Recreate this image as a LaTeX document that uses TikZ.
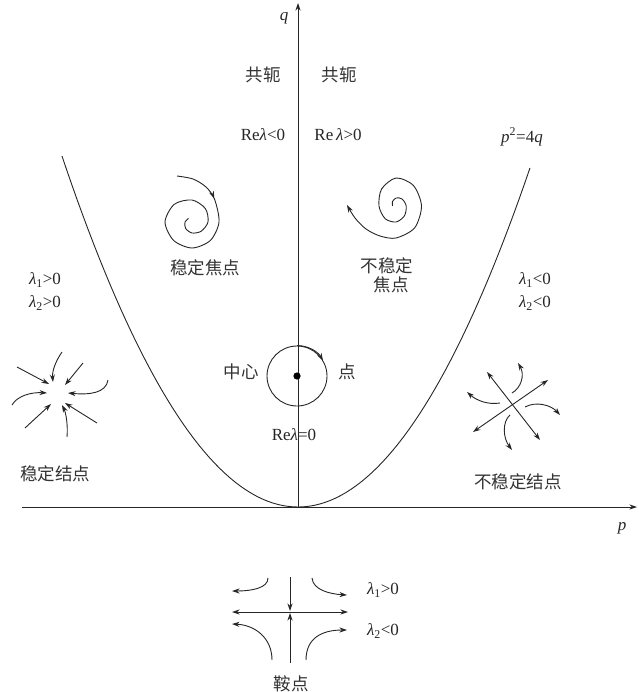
\documentclass[tikz,border=0pt]{standalone}
\usepackage{fontspec}
\setmainfont{Liberation Serif}
\newfontfamily\cjk{Noto Sans CJK SC}
\usetikzlibrary{arrows.meta,decorations.markings}
\begin{document}
\begin{tikzpicture}[x=1pt,y=-1pt,line width=0.9pt,draw=black!85,
  >={Stealth[length=7.5pt,width=5pt]},
  lab/.style={font=\fontsize{17}{19}\selectfont,inner sep=0pt,text=black!85},
  zh/.style={font=\cjk\fontsize{17.5}{20}\selectfont,inner sep=0pt,text=black!80},
  arrowmid/.style={postaction={decorate},decoration={markings,mark=at position #1 with {\arrow{>}}}}]
\useasboundingbox (0,0) rectangle (638,692);

% axes
\coordinate (O) at (298,507);
\coordinate (pstart) at (22,507);
\coordinate (pend) at (637,507);
\coordinate (qend) at (298,3);
\draw[->] (pstart) -- (pend);
\draw[->] (O) -- (qend);
\node[lab] (q) at (284,18) {\textit{q}};
\node[lab] (p) at (622,528) {\textit{p}};

% parabola
\draw[domain=-2.36:2.32,samples=90] plot ({298+100*\x},{507-63*\x*\x});
\node[lab] (pq) at (522,137) {\textit{p}\textsuperscript{2}=4\textit{q}};

% top labels
\node[zh] (gl) at (263,75) {共轭};
\node[zh] (gr) at (339,75) {共轭};
\node[lab] (rl) at (263,135) {Re\textit{λ}<0};
\node[lab] (rr) at (338,135) {Re\,\textit{λ}>0};

% stable focus
\draw[arrowmid=46pt] plot[smooth] coordinates {(177,176) (193,179) (206,187) (214.6,199.4) (219,222) (210.4,240.4) (192,248) (173.6,240.4) (165,222) (174.3,204.3) (192,200) (205.4,208.6) (208,222) (201.2,231.2) (192,233) (185.6,228.4) (185,222) (188.5,218.5)};
\node[zh] (wdjd) at (205,268) {稳定焦点};

% unstable focus
\draw[->] plot[smooth] coordinates {(392.6,206) (392.4,201.8) (396,198) (402,198.9) (406.2,206) (404.4,215.9) (396,222) (385.2,218.7) (379,206) (381.6,189) (396,178) (413.4,185.5) (421.5,206) (414.6,227.9) (396,238) (380,236) (366,229) (355,218) (347,205)};
\node[zh] (bwd) at (387,266) {不稳定};
\node[zh] (jd) at (391,285) {焦点};

% lambda labels
\node[lab] (la1) at (45,280) {\textit{λ}\textsubscript{1}>0};
\node[lab] (la2) at (45,303) {\textit{λ}\textsubscript{2}>0};
\node[lab] (lb1) at (535,280) {\textit{λ}\textsubscript{1}<0};
\node[lab] (lb2) at (535,303) {\textit{λ}\textsubscript{2}<0};

% center
\node[circle,draw,line width=0.9pt,minimum size=60pt,inner sep=0pt] (ctr) at (297,376) {};
\fill[black] (ctr.center) circle[radius=3.6];
\draw[->] (ctr.north) arc[start angle=-90,end angle=-30,radius=30];
\node[zh] (zx) at (241,372) {中心};
\node[zh] (dian) at (347,372) {点};
\node[lab] (re0) at (294,435) {Re\textit{λ}=0};

% stable node
\draw[->] (17,367) -- (49,384);
\draw[->] (83,363) -- (65,385);
\draw[->] (97,423) -- (65,403);
\draw[->] (25,428) -- (51,404);
\draw[->] (62,352) .. controls (55,362) and (52,372) .. (53,382);
\draw[->] (108,380) .. controls (106,393) and (90,395) .. (68,393);
\draw[->] (67,437) .. controls (68,425) and (66,413) .. (62,405);
\draw[->] (12,405) .. controls (17,396) and (31,392) .. (47,393);
\node[zh] (wdjiedian) at (55,474) {稳定结点};

% unstable node
\draw[<->] (487,372) -- (540,440);
\draw[<->] (473,432) -- (548,380);
\draw[->] (512,393) .. controls (521,388) and (525,375) .. (518,363);
\draw[->] (500,403) .. controls (487,405) and (476,400) .. (467,392);
\draw[->] (525,407) .. controls (536,401) and (551,405) .. (560,415);
\draw[->] (510,415) .. controls (502,422) and (503,438) .. (512,450);
\node[zh] (bwdjiedian) at (518,482) {不稳定结点};

% saddle
\draw[->] (290,577) -- (290,611);
\draw[->] (290,663) -- (290,613);
\draw[<->] (232,612) -- (348,612);
\draw[->] (268,578) .. controls (268,588) and (252,591) .. (232,591);
\draw[->] (312,578) .. controls (313,590) and (330,594) .. (347,595);
\draw[->] (272,660) .. controls (272,638) and (255,625) .. (232,624);
\draw[->] (306,660) .. controls (306,638) and (322,630) .. (347,630);
\node[lab] (s1) at (383,590) {\textit{λ}\textsubscript{1}>0};
\node[lab] (s2) at (383,631) {\textit{λ}\textsubscript{2}<0};
\node[zh] (an) at (291,684) {鞍点};
\end{tikzpicture}
\end{document}
